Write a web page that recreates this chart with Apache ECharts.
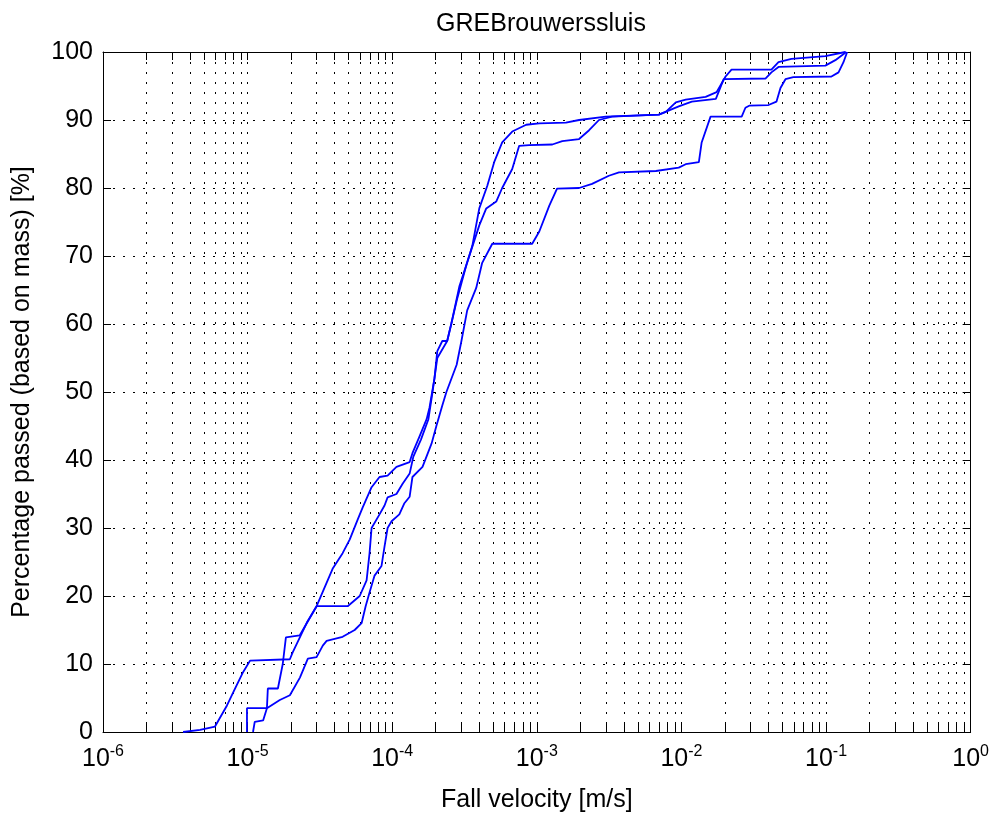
<!DOCTYPE html>
<html>
<head>
<meta charset="utf-8">
<script src="https://cdn.jsdelivr.net/npm/echarts@6/dist/echarts.min.js"></script>
<style>
  html, body { margin: 0; padding: 0; background: #fff; }
  #chart { width: 992px; height: 818px; }
</style>
</head>
<body>
<div id="chart"></div>
<script>
// three settling curves, fall velocity [m/s] vs percentage passed [%]
const velA = [3.58e-6, 4.69e-6, 5.95e-6, 7.2e-6, 8.2e-6, 9.3e-6, 1.04e-5, 1.96e-5, 2.05e-5, 2.57e-5, 3.0e-5, 4.92e-5, 5.96e-5, 6.65e-5, 6.97e-5, 7.2e-5, 8.17e-5, 8.85e-5, 9.29e-5, 1.07e-4, 1.18e-4, 1.32e-4, 1.40e-4, 1.58e-4, 1.78e-4, 1.90e-4, 2.05e-4, 2.40e-4, 2.56e-4, 2.91e-4, 4.0e-4, 4.47e-4, 5.24e-4, 5.76e-4, 6.76e-4, 7.55e-4, 8.85e-4, 1.28e-3, 1.50e-3, 1.96e-3, 2.30e-3, 2.69e-3, 3.31e-3, 6.98e-3, 9.58e-3, 1.18e-2, 1.73e-2, 1.96e-2, 3.81e-2, 4.19e-2, 4.69e-2, 9.89e-2, 1.16e-1, 1.38e-1];
const pctA = [0, 0.3, 0.8, 3.9, 6.4, 8.8, 10.5, 10.7, 11.7, 16.1, 18.5, 18.5, 20, 22.3, 26.3, 30, 32, 33.3, 34.5, 35, 36.5, 38, 40.5, 43, 46, 50, 55, 57.5, 60, 65.5, 74.5, 77, 78, 80, 82.8, 86.2, 86.3, 86.4, 86.9, 87.2, 88.5, 90, 90.5, 90.8, 92, 92.7, 93.1, 96, 96.1, 97, 97.8, 98, 98.8, 100];

const velB = [9.9e-6, 9.9e-6, 1.36e-5, 1.38e-5, 1.62e-5, 1.75e-5, 1.84e-5, 2.29e-5, 3.0e-5, 3.87e-5, 4.54e-5, 5.08e-5, 5.76e-5, 6.24e-5, 7.2e-5, 8.17e-5, 9.29e-5, 1.07e-4, 1.32e-4, 1.38e-4, 1.54e-4, 1.73e-4, 1.81e-4, 1.96e-4, 2.05e-4, 2.22e-4, 2.40e-4, 2.56e-4, 2.82e-4, 3.25e-4, 3.58e-4, 4.0e-4, 4.54e-4, 5.07e-4, 5.76e-4, 6.76e-4, 8.44e-4, 1.04e-3, 1.59e-3, 1.96e-3, 3.0e-3, 6.98e-3, 7.8e-3, 9.14e-3, 1.07e-2, 1.47e-2, 1.75e-2, 2.02e-2, 2.22e-2, 4.19e-2, 4.69e-2, 5.76e-2, 9.89e-2, 1.36e-1];
const pctB = [0, 3.5, 3.5, 6.4, 6.4, 10, 13.9, 14.2, 18.5, 24, 26.3, 28.3, 31.2, 33, 36, 37.5, 37.7, 39, 39.7, 41, 43.4, 46, 47.7, 52, 56, 57.5, 57.5, 60, 63.8, 68.6, 71.5, 77, 80.3, 83.8, 86.7, 88.3, 89.3, 89.5, 89.6, 90, 90.5, 90.8, 91.2, 92.6, 93, 93.4, 94.1, 96.4, 97.4, 97.4, 98.5, 99, 99.4, 100];

const velC = [1.09e-5, 1.12e-5, 1.28e-5, 1.36e-5, 1.67e-5, 1.96e-5, 2.30e-5, 2.61e-5, 3.0e-5, 3.31e-5, 3.52e-5, 4.54e-5, 5.5e-5, 6.14e-5, 6.55e-5, 6.97e-5, 7.55e-5, 8.43e-5, 8.85e-5, 9.29e-5, 9.9e-5, 1.12e-4, 1.21e-4, 1.32e-4, 1.38e-4, 1.62e-4, 1.87e-4, 2.02e-4, 2.22e-4, 2.37e-4, 2.79e-4, 3.01e-4, 3.30e-4, 3.81e-4, 4.19e-4, 4.92e-4, 9.29e-4, 1.04e-3, 1.22e-3, 1.38e-3, 1.96e-3, 2.41e-3, 3.15e-3, 3.70e-3, 6.66e-3, 9.58e-3, 1.07e-2, 1.32e-2, 1.38e-2, 1.59e-2, 2.61e-2, 2.77e-2, 2.94e-2, 4.0e-2, 4.54e-2, 4.84e-2, 5.24e-2, 5.94e-2, 1.09e-1, 1.22e-1, 1.32e-1, 1.40e-1];
const pctC = [0, 1.5, 1.7, 3.5, 4.7, 5.4, 8, 10.8, 11, 12.7, 13.4, 14, 15, 16, 18.5, 20.5, 23, 24.4, 27.3, 30, 31, 32, 33.6, 34.6, 37.5, 39, 42.4, 45, 48, 50, 54, 57.5, 62, 65.3, 69, 71.8, 71.8, 73.6, 77.4, 79.9, 80, 80.6, 81.8, 82.3, 82.5, 83, 83.5, 83.8, 86.7, 90.5, 90.5, 91.8, 92.1, 92.2, 92.7, 94.7, 96, 96.3, 96.4, 97, 98.5, 100];

const xMin = 1e-6, xMax = 1;
const yMin = 0, yMax = 100, yStep = 10;

const FONT = 'Liberation Sans, Arial, Helvetica, sans-serif';

function pairs(xs, ys) {
    return xs.map((x, i) => [x, ys[i]]);
}

const dotted = { color: '#000', width: 1, type: [2, 8] };

const chart = echarts.init(document.getElementById('chart'), null, { renderer: 'canvas' });

const baseX = {
    type: 'log',
    logBase: 10,
    min: xMin,
    max: xMax,
    axisLine: { show: true, onZero: false, lineStyle: { color: '#000', width: 1 } },
    axisTick: { show: true, inside: true, length: 8, lineStyle: { color: '#000' } },
    minorTick: { show: true, splitNumber: 9, length: 8, lineStyle: { color: '#000' } },
};
const baseY = {
    type: 'value',
    min: yMin,
    max: yMax,
    interval: yStep,
    axisLine: { show: true, onZero: false, lineStyle: { color: '#000', width: 1 } },
    axisTick: { show: true, inside: true, length: 8, lineStyle: { color: '#000' } },
};

const option = {
    backgroundColor: '#fff',
    animation: false,
    title: {
        text: 'GREBrouwerssluis',
        left: 536,
        textAlign: 'center',
        top: 7,
        textStyle: { fontFamily: FONT, fontSize: 25, fontWeight: 'normal', color: '#000' }
    },
    grid: { left: 103, right: 19, top: 52, bottom: 81 },
    xAxis: [
        Object.assign({}, baseX, {
            position: 'bottom',
            name: 'Fall velocity [m/s]',
            nameLocation: 'middle',
            nameGap: 56,
            nameTextStyle: { fontFamily: FONT, fontSize: 25, color: '#000' },
            splitLine: { show: true, lineStyle: dotted },
            minorSplitLine: { show: true, lineStyle: dotted },
            axisLabel: {
                margin: 12,
                formatter: function (v) {
                    const e = Math.round(Math.log10(v));
                    return '{b|10}{s|' + e + '}';
                },
                rich: {
                    b: { fontFamily: FONT, fontSize: 25, color: '#000', lineHeight: 30 },
                    s: { fontFamily: FONT, fontSize: 16, color: '#000', lineHeight: 15, verticalAlign: 'top' }
                }
            }
        }),
        Object.assign({}, baseX, {
            position: 'top',
            axisLabel: { show: false },
            splitLine: { show: false }
        })
    ],
    yAxis: [
        Object.assign({}, baseY, {
            position: 'left',
            name: 'Percentage passed (based on mass) [%]',
            nameLocation: 'middle',
            nameGap: 68,
            nameTextStyle: { fontFamily: FONT, fontSize: 25, color: '#000' },
            splitLine: { show: true, lineStyle: dotted },
            axisLabel: { margin: 10, fontFamily: FONT, fontSize: 25, color: '#000' }
        }),
        Object.assign({}, baseY, {
            position: 'right',
            axisLabel: { show: false },
            splitLine: { show: false }
        })
    ],
    series: [
        { data: pairs(velA, pctA) },
        { data: pairs(velB, pctB) },
        { data: pairs(velC, pctC) }
    ].map(s => Object.assign({
        type: 'line',
        xAxisIndex: 0,
        yAxisIndex: 0,
        showSymbol: false,
        symbol: 'none',
        lineStyle: { color: '#0000ff', width: 1.8 },
        z: 5
    }, s))
};

chart.setOption(option);
</script>
</body>
</html>
